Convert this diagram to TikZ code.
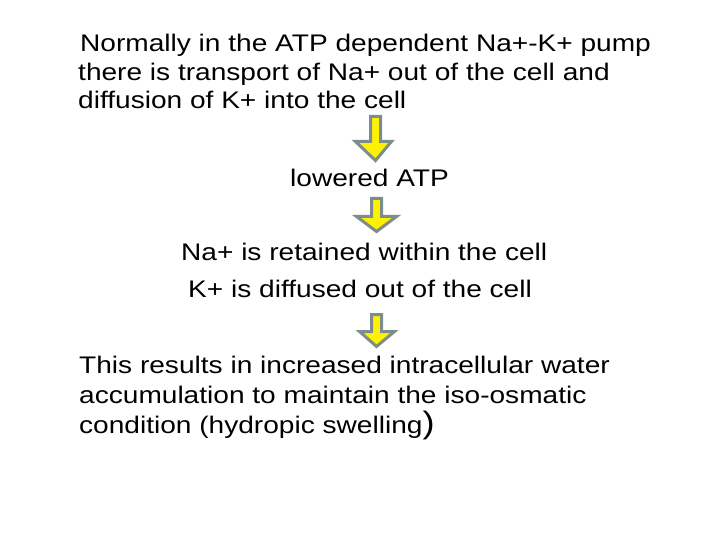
\documentclass[tikz,border=0pt]{standalone}
\usepackage{fontspec}
\setmainfont{Liberation Sans}[FakeStretch=1.17]
\begin{document}
\begin{tikzpicture}[x=1pt,y=-1pt,
  txt/.style={anchor=base west,inner sep=0pt,font=\fontsize{24}{28}\selectfont},
  downarrow/.style={fill=yellow,draw=arrowgray,line width=3pt,line join=miter}]
\definecolor{arrowgray}{RGB}{125,140,140}
\useasboundingbox (0,0) rectangle (720,540);
\node[txt] (l1) at (80,52) {Normally in the ATP dependent Na+-K+ pump};
\node[txt] (l2) at (78,81) {there is transport of Na+ out of the cell and};
\node[txt] (l3) at (78,109) {diffusion of K+ into the cell};
\node[txt] (l4) at (290,187) {lowered ATP};
\node[txt] (l5) at (181,260) {Na+ is retained within the cell};
\node[txt] (l6) at (188,297) {K+ is diffused out of the cell};
\node[txt] (l7) at (79,373) {This results in increased intracellular water};
\node[txt] (l8) at (79,403) {accumulation to maintain the iso-osmatic};
\node[txt] (l9) at (79,433) {condition (hydropic swelling{\fontsize{31}{32}\selectfont)}};
% arrows
\draw[downarrow] (370.5,116.5) -- (380.5,116.5) -- (380.5,141.5) -- (391.5,141.5) -- (375.5,160.5) -- (355.5,141.5) -- (370.5,141.5) -- cycle;
\draw[downarrow] (371.5,198.5) -- (381.5,198.5) -- (381.5,216.5) -- (396.5,216.5) -- (376.5,231.5) -- (356.5,216.5) -- (371.5,216.5) -- cycle;
\draw[downarrow] (371.5,314.5) -- (381.5,314.5) -- (381.5,331.5) -- (394.5,331.5) -- (376.5,346.5) -- (359.5,331.5) -- (371.5,331.5) -- cycle;
\end{tikzpicture}
\end{document}
